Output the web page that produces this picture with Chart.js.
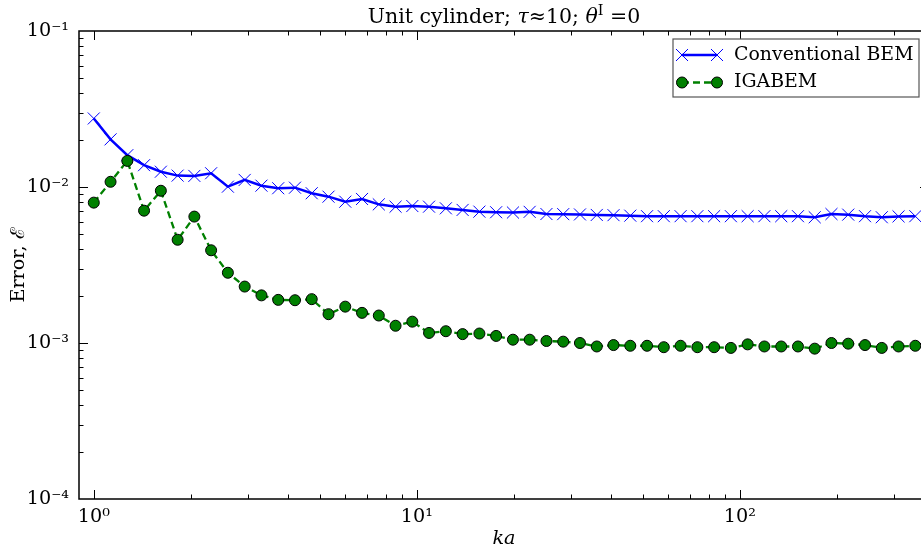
<!DOCTYPE html>
<html><head><meta charset="utf-8">
<script src="https://cdn.jsdelivr.net/npm/chart.js@4"></script>
<style>
html,body{margin:0;padding:0;overflow:hidden;background:#fff;width:921px;height:550px}
#wrap{position:relative;width:960px;height:550px}
</style>
</head><body><div id="wrap"><canvas id="c" width="960" height="550"></canvas></div>
<script>
// ---- data ----
const ka = [1.000,1.127,1.270,1.431,1.613,1.818,2.048,2.308,2.601,2.932,3.304,3.723,4.196,4.728,5.329,6.005,6.767,7.626,8.594,9.685,10.91,12.30,13.86,15.62,17.60,19.84,22.35,25.19,28.39,31.99,36.06,40.63,45.79,51.60,58.15,65.54,73.86,83.23,93.80,105.7,119.1,134.3,151.3,170.5,192.1,216.5,244.0,275.0,309.9,349.2];
const conventionalBEM = [0.0275,0.0202,0.0160,0.0138,0.01253,0.01183,0.01178,0.01225,0.01005,0.0111,0.0102,0.00982,0.0099,0.00912,0.00867,0.00805,0.00838,0.00774,0.00748,0.00755,0.00748,0.0073,0.00713,0.00695,0.00689,0.00686,0.00693,0.00671,0.0067,0.00667,0.00662,0.0066,0.00655,0.0065,0.0065,0.0065,0.0065,0.0065,0.0065,0.0065,0.0065,0.0065,0.0065,0.0064,0.00671,0.00665,0.0065,0.0064,0.00648,0.0065];
const igabem = [0.00794,0.0108,0.0147,0.00705,0.00946,0.00459,0.00646,0.00393,0.00282,0.0023,0.00202,0.00189,0.00188,0.00191,0.00153,0.00171,0.00156,0.0015,0.00129,0.00137,0.00116,0.00119,0.00114,0.00115,0.00111,0.00105,0.00105,0.00103,0.00102,0.00100,0.00095,0.00097,0.00096,0.00096,0.00094,0.00096,0.00094,0.00094,0.00093,0.00098,0.00095,0.00095,0.00095,0.00092,0.00100,0.00099,0.00097,0.00093,0.00095,0.00096];
const seriesNames = ['Conventional BEM','IGABEM'];
const xTickLabels = {0:'10⁰',1:'10¹',2:'10²'};
const yTickLabels = {'-4':'10⁻⁴','-3':'10⁻³','-2':'10⁻²','-1':'10⁻¹'};
const titleParts = [['Unit cylinder; ',''],['τ','italic '],['≈10; ',''],['θ','italic '],['I','sup'],[' =0','']];
const xTitle = 'ka';
const yTitle = 'Error, ℰ';

const FONT = "'DejaVu Serif', serif";
const FS = 19.2;
const TFS = 20.5;
const BLUE = '#0000ff', GREEN = '#008000';

function decadeLabel(map, v){
  const l = Math.log10(v), r = Math.round(l);
  return Math.abs(l - r) < 1e-6 && map[r] !== undefined ? map[r] : '';
}

const decor = {
  id:'decor',
  afterDatasetsDraw(chart){
    const ctx = chart.ctx, a = chart.chartArea, xs = chart.scales.x, ys = chart.scales.y;
    ctx.save();
    ctx.strokeStyle = '#000';
    ctx.lineWidth = 1;
    const within = (v,s)=> v > s.min*1.0001 && v < s.max*0.9999;
    for (let n=-1;n<=3;n++) for (let k=1;k<=9;k++){
      const v = k*Math.pow(10,n);
      if (!within(v,xs)) continue;
      const px = Math.round(xs.getPixelForValue(v))+0.5, L = k===1?9:4.5;
      ctx.beginPath();
      ctx.moveTo(px,a.bottom); ctx.lineTo(px,a.bottom-L);
      ctx.moveTo(px,a.top); ctx.lineTo(px,a.top+L);
      ctx.stroke();
    }
    for (let n=-5;n<=0;n++) for (let k=1;k<=9;k++){
      const v = k*Math.pow(10,n);
      if (!within(v,ys)) continue;
      const py = Math.round(ys.getPixelForValue(v))+0.5, L = k===1?9:4.5;
      ctx.beginPath();
      ctx.moveTo(a.left,py); ctx.lineTo(a.left+L,py);
      ctx.moveTo(a.right,py); ctx.lineTo(a.right-L,py);
      ctx.stroke();
    }
    ctx.lineWidth = 1.5;
    ctx.strokeRect(a.left, a.top, a.right-a.left, a.bottom-a.top);

    // title
    ctx.fillStyle = '#000';
    ctx.textBaseline = 'alphabetic';
    let total = 0;
    const pieces = titleParts.map(([t,st])=>{
      const f = st==='sup' ? `${TFS*0.7}px ${FONT}` : `${st}${TFS}px ${FONT}`;
      ctx.font = f; const w = ctx.measureText(t).width; total += w;
      return {t,f,w,sup:st==='sup'};
    });
    let x = (a.left+a.right)/2 - total/2;
    const base = 23;
    ctx.textAlign = 'left';
    for (const p of pieces){
      ctx.font = p.f;
      ctx.fillText(p.t, x, p.sup ? base-8 : base);
      x += p.w;
    }

    // legend
    const lx = 673, ly = 39, lw = 246, lh = 58;
    ctx.fillStyle = '#fff';
    ctx.fillRect(lx,ly,lw,lh);
    ctx.strokeStyle = '#555';
    ctx.lineWidth = 1.2;
    ctx.strokeRect(lx,ly,lw,lh);
    const rows = [55, 82.5];
    const ds = chart.data.datasets;
    rows.forEach((ry,i)=>{
      const d = ds[i];
      ctx.save();
      ctx.strokeStyle = d.borderColor;
      ctx.lineWidth = d.borderWidth;
      ctx.setLineDash(d.borderDash || []);
      ctx.beginPath(); ctx.moveTo(682,ry); ctx.lineTo(717,ry); ctx.stroke();
      ctx.setLineDash([]);
      const po = {pointStyle:d.pointStyle, radius:d.pointRadius, borderWidth:d.pointBorderWidth, rotation:0};
      ctx.fillStyle = d.pointBackgroundColor;
      ctx.strokeStyle = d.pointBorderColor;
      ctx.lineWidth = d.pointBorderWidth;
      Chart.helpers.drawPoint(ctx, po, 682, ry);
      Chart.helpers.drawPoint(ctx, po, 717, ry);
      ctx.restore();
      ctx.fillStyle = '#000';
      ctx.font = `${18.9}px ${FONT}`;
      ctx.textBaseline = 'middle';
      ctx.textAlign = 'left';
      ctx.fillText(seriesNames[i], 734, ry);
    });
    ctx.restore();
  }
};

new Chart(document.getElementById('c'), {
  type:'line',
  data:{
    datasets:[
      {label:seriesNames[0], data: ka.map((x,i)=>({x, y:conventionalBEM[i]})),
       borderColor:BLUE, borderWidth:2.5, pointStyle:'crossRot', pointRadius:8.5,
       pointBorderColor:BLUE, pointBackgroundColor:BLUE, pointBorderWidth:1, tension:0, order:2, fill:false},
      {label:seriesNames[1], data: ka.map((x,i)=>({x, y:igabem[i]})),
       borderColor:GREEN, borderWidth:2.3, borderDash:[7,4], pointStyle:'circle', pointRadius:5.5,
       pointBorderColor:'#000', pointBackgroundColor:GREEN, pointBorderWidth:1, tension:0, order:1, fill:false}
    ]
  },
  options:{
    responsive:false, animation:false, devicePixelRatio:1,
    layout:{padding:{top:31,right:31,left:0,bottom:0}},
    plugins:{legend:{display:false}, tooltip:{enabled:false}, title:{display:false}},
    scales:{
      x:{type:'logarithmic', min:0.9, max:385, position:'bottom',
         grid:{display:false, drawTicks:false}, border:{display:false},
         ticks:{autoSkip:false, maxRotation:0, padding:6, color:'#000', font:{family:FONT,size:FS},
                callback:(v)=>decadeLabel(xTickLabels,v)},
         title:{display:true, text:xTitle, color:'#000', font:{family:FONT,size:FS,style:'italic'}, padding:{top:0,bottom:-1}},
         afterFit:(s)=>{s.height = 51;}},
      y:{type:'logarithmic', min:1e-4, max:1e-1, position:'left',
         grid:{display:false, drawTicks:false}, border:{display:false},
         ticks:{autoSkip:false, padding:10, color:'#000', font:{family:FONT,size:FS},
                callback:(v)=>decadeLabel(yTickLabels,v)},
         title:{display:true, text:yTitle, color:'#000', font:{family:FONT,size:FS}, padding:{top:7,bottom:0}},
         afterFit:(s)=>{s.width = 79;}}
    }
  },
  plugins:[decor]
});
</script>
</body></html>
